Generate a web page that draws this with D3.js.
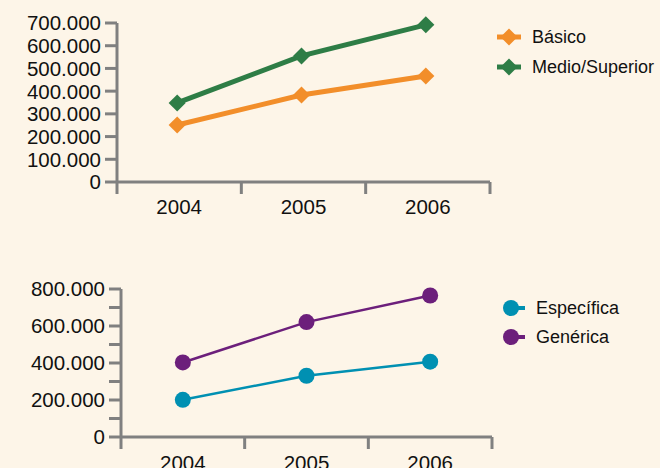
<!DOCTYPE html>
<html lang="es">
<head>
<meta charset="UTF-8">
<script src="https://d3js.org/d3.v7.min.js"></script>
<style>
  body, html { margin: 0; padding: 0; background: #fdf5e8; }
  svg { display: block; }
  text { font-family: "Liberation Sans", Arial, sans-serif; fill: #111; }
</style>
</head>
<body>
<script>
// data
const years = ["2004", "2005", "2006"];
const basico = [251000, 383000, 467000];
const medioSuperior = [348000, 555000, 692000];
const especifica = [201000, 331000, 407000];
const generica = [403000, 621000, 765000];
const topTicks = [0, 100000, 200000, 300000, 400000, 500000, 600000, 700000];
const bottomTicks = [0, 100000, 200000, 300000, 400000, 500000, 600000, 700000, 800000];

const W = 660, H = 468;
const axisColor = "#808080";
const fmt = d3.formatLocale({decimal: ",", thousands: ".", grouping: [3], currency: ["", ""]}).format(",");

const svg = d3.select("body").append("svg")
    .attr("width", W)
    .attr("height", H);

svg.append("rect").attr("width", W).attr("height", H).attr("fill", "#fdf5e8");

function drawAxes(g, x, y, ticks, labelEvery, labelY, tickLen) {
    const x0 = x.range()[0], x1 = x.range()[1];
    const y0 = y.range()[0], y1 = y.range()[1];
    // y axis line (continues down as the first x tick)
    g.append("line")
        .attr("x1", x0).attr("x2", x0)
        .attr("y1", y1).attr("y2", y0 + 12)
        .attr("stroke", axisColor).attr("stroke-width", 3);
    // x axis line
    g.append("line")
        .attr("x1", x0).attr("x2", x1)
        .attr("y1", y0).attr("y2", y0)
        .attr("stroke", axisColor).attr("stroke-width", 3);
    // y ticks
    g.selectAll(".ytick").data(ticks).enter().append("line")
        .attr("x1", x0 - tickLen).attr("x2", x0)
        .attr("y1", d => y(d)).attr("y2", d => y(d))
        .attr("stroke", axisColor).attr("stroke-width", 3);
    g.selectAll(".ylab").data(ticks.filter(d => d % labelEvery === 0)).enter().append("text")
        .attr("x", x0 - tickLen - 4)
        .attr("y", d => y(d))
        .attr("dy", "0.36em")
        .attr("text-anchor", "end")
        .style("font-size", "20.5px")
        .text(d => fmt(d));
    // x ticks at band edges
    const edges = x.domain().map(d => x(d)).concat([x1]);
    g.selectAll(".xtick").data(edges.slice(1)).enter().append("line")
        .attr("x1", d => d).attr("x2", d => d)
        .attr("y1", y0).attr("y2", y0 + 12)
        .attr("stroke", axisColor).attr("stroke-width", 3);
    g.selectAll(".xlab").data(x.domain()).enter().append("text")
        .attr("x", d => x(d) + x.bandwidth() / 2)
        .attr("y", labelY)
        .attr("text-anchor", "middle")
        .style("font-size", "20.5px")
        .text(d => d);
}

// ---- top chart
const xTop = d3.scaleBand().domain(years).range([117, 490]).padding(0);
const yTop = d3.scaleLinear().domain([0, 700000]).range([182, 23]);
const gTop = svg.append("g");
drawAxes(gTop, xTop, yTop, topTicks, 100000, 214, 12);

const diamond = d3.symbol().type(d3.symbolDiamond2).size(185);
const topSeries = [
    {name: "Básico", values: basico, color: "#f28e2a"},
    {name: "Medio/Superior", values: medioSuperior, color: "#2e7d46"}
];
const lineTop = d3.line()
    .x((d, i) => xTop(years[i]) + xTop.bandwidth() / 2 - 2)
    .y(d => yTop(d));

topSeries.forEach((s, k) => {
    gTop.append("path")
        .attr("d", lineTop(s.values))
        .attr("fill", "none")
        .attr("stroke", s.color)
        .attr("stroke-width", 5);
    gTop.selectAll(".pt" + k).data(s.values).enter().append("path")
        .attr("d", diamond)
        .attr("transform", (d, i) => `translate(${xTop(years[i]) + xTop.bandwidth() / 2 - 2},${yTop(d)})`)
        .attr("fill", s.color);
    const ly = 37 + k * 30;
    gTop.append("line")
        .attr("x1", 497).attr("x2", 521)
        .attr("y1", ly).attr("y2", ly)
        .attr("stroke", s.color).attr("stroke-width", 5);
    gTop.append("path")
        .attr("d", diamond)
        .attr("transform", `translate(509,${ly})`)
        .attr("fill", s.color);
    gTop.append("text")
        .attr("x", 532).attr("y", ly)
        .attr("dy", "0.36em")
        .style("font-size", "18px")
        .text(s.name);
});

// ---- bottom chart
const xBot = d3.scaleBand().domain(years).range([121, 492]).padding(0);
const yBot = d3.scaleLinear().domain([0, 800000]).range([437, 289]);
const gBot = svg.append("g");
drawAxes(gBot, xBot, yBot, bottomTicks, 200000, 470, 12);

const botSeries = [
    {name: "Específica", values: especifica, color: "#0090b2"},
    {name: "Genérica", values: generica, color: "#6c1f7b"}
];
const lineBot = d3.line()
    .x((d, i) => xBot(years[i]) + xBot.bandwidth() / 2)
    .y(d => yBot(d));

botSeries.forEach((s, k) => {
    gBot.append("path")
        .attr("d", lineBot(s.values))
        .attr("fill", "none")
        .attr("stroke", s.color)
        .attr("stroke-width", 2.5);
    gBot.selectAll(".pt" + k).data(s.values).enter().append("circle")
        .attr("cx", (d, i) => xBot(years[i]) + xBot.bandwidth() / 2)
        .attr("cy", d => yBot(d))
        .attr("r", 8)
        .attr("fill", s.color);
    const ly = 308 + k * 29;
    gBot.append("line")
        .attr("x1", 505).attr("x2", 525)
        .attr("y1", ly).attr("y2", ly)
        .attr("stroke", s.color).attr("stroke-width", 4);
    gBot.append("circle")
        .attr("cx", 511).attr("cy", ly)
        .attr("r", 8)
        .attr("fill", s.color);
    gBot.append("text")
        .attr("x", 536).attr("y", ly)
        .attr("dy", "0.36em")
        .style("font-size", "18px")
        .text(s.name);
});
</script>
</body>
</html>
